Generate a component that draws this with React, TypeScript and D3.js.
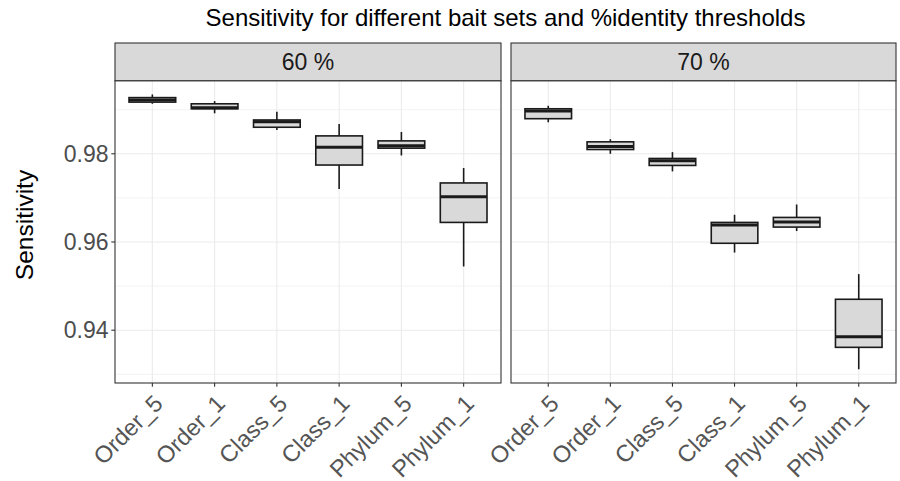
import React from "react";
import * as d3 from "d3";

const categories = ["Order_5", "Order_1", "Class_5", "Class_1", "Phylum_5", "Phylum_1"];
const panels = ["60 %", "70 %"];
// [whiskerLow, q1, median, q3, whiskerHigh]
const stats60: number[][] = [
  [0.99134, 0.99172, 0.99218, 0.99274, 0.99346],
  [0.98918, 0.99021, 0.99044, 0.99134, 0.99195],
  [0.98541, 0.98602, 0.98728, 0.98767, 0.98954],
  [0.97204, 0.97745, 0.9815, 0.98406, 0.98676],
  [0.97962, 0.98128, 0.9818, 0.98293, 0.98496],
  [0.95445, 0.96444, 0.97024, 0.97339, 0.97677],
];
const stats70: number[][] = [
  [0.98715, 0.98796, 0.9897, 0.99021, 0.99089],
  [0.98, 0.98097, 0.98166, 0.98271, 0.98331],
  [0.97601, 0.97736, 0.97842, 0.97894, 0.98038],
  [0.95761, 0.95971, 0.96383, 0.96444, 0.96618],
  [0.96248, 0.96338, 0.96451, 0.96557, 0.9685],
  [0.93114, 0.93611, 0.93851, 0.94701, 0.95272],
];
const yTicks = [0.94, 0.96, 0.98];
const yMinor = [0.93, 0.95, 0.97, 0.99];

const W = 900;
const H = 481;
const FONT = "'Liberation Sans', Arial, Helvetica, sans-serif";

export default function App() {
  const allStats = [stats60, stats70];
  const all = allStats.flat().flat();
  const lo = d3.min(all)!;
  const hi = d3.max(all)!;
  const pad = (hi - lo) * 0.05;
  const top = 80.7;
  const bottom = 383;
  const y = d3.scaleLinear().domain([lo - pad, hi + pad]).range([bottom, top]);
  const panelX = [
    [115, 501],
    [511, 896],
  ];
  const stripTop = 43;
  const dark = "#1a1a1a";

  return (
    <svg width={W} height={H} style={{ display: "block", position: "absolute", left: 0, top: 0 }} fontFamily={FONT}>
      <rect x={0} y={0} width={W} height={H} fill="#fff" />
      <text x={(115 + 896) / 2} y={26} textAnchor="middle" fontSize={24} fill="#000">
        Sensitivity for different bait sets and %identity thresholds
      </text>
      <text transform={`translate(33, 225) rotate(-90)`} textAnchor="middle" fontSize={24.5} fill="#000">
        Sensitivity
      </text>
      {yTicks.map((t) => (
        <g key={t}>
          <line x1={111.3} x2={115} y1={y(t)} y2={y(t)} stroke="#333" strokeWidth={1.1} />
          <text x={108.5} y={y(t)} dy="0.36em" textAnchor="end" fontSize={23} fill="#4d4d4d">
            {t.toFixed(2)}
          </text>
        </g>
      ))}
      {panels.map((p, pi) => {
        const [x0, x1] = panelX[pi];
        // ggplot discrete expansion 0.6 units each side
        const step = (x1 - x0) / (categories.length - 1 + 1.2);
        const cx = (c: string) => x0 + step * (0.6 + categories.indexOf(c));
        const bw = step * 0.75;
        const st = allStats[pi];
        return (
          <g key={p}>
            <rect x={x0} y={top} width={x1 - x0} height={bottom - top} fill="#fff" />
            {yMinor.map((t) => (
              <line key={"m" + t} x1={x0} x2={x1} y1={y(t)} y2={y(t)} stroke="#ebebeb" strokeWidth={0.6} />
            ))}
            {yTicks.map((t) => (
              <line key={"M" + t} x1={x0} x2={x1} y1={y(t)} y2={y(t)} stroke="#ebebeb" strokeWidth={1.1} />
            ))}
            {categories.map((c) => (
              <line key={"v" + c} x1={cx(c)} x2={cx(c)} y1={top} y2={bottom} stroke="#ebebeb" strokeWidth={1.1} />
            ))}
            {categories.map((c, i) => {
              const [wl, q1, md, q3, wh] = st[i];
              const xc = cx(c);
              return (
                <g key={c}>
                  <line x1={xc} x2={xc} y1={y(wh)} y2={y(q3)} stroke={dark} strokeWidth={1.6} />
                  <line x1={xc} x2={xc} y1={y(q1)} y2={y(wl)} stroke={dark} strokeWidth={1.6} />
                  <rect
                    x={xc - bw / 2}
                    y={y(q3)}
                    width={bw}
                    height={y(q1) - y(q3)}
                    fill="#d9d9d9"
                    stroke={dark}
                    strokeWidth={1.6}
                  />
                  <line x1={xc - bw / 2} x2={xc + bw / 2} y1={y(md)} y2={y(md)} stroke={dark} strokeWidth={3} />
                </g>
              );
            })}
            <rect x={x0} y={top} width={x1 - x0} height={bottom - top} fill="none" stroke="#333" strokeWidth={1.1} />
            <rect
              x={x0}
              y={stripTop}
              width={x1 - x0}
              height={top - stripTop}
              fill="#d9d9d9"
              stroke="#333"
              strokeWidth={1.1}
            />
            <text x={(x0 + x1) / 2} y={(stripTop + top) / 2} dy="0.36em" textAnchor="middle" fontSize={23} fill="#1a1a1a">
              {p}
            </text>
            {categories.map((c) => (
              <g key={"t" + c}>
                <line x1={cx(c)} x2={cx(c)} y1={bottom} y2={bottom + 3.7} stroke="#333" strokeWidth={1.1} />
                <text
                  transform={`translate(${cx(c)}, ${bottom + 10}) rotate(-45)`}
                  textAnchor="end"
                  dy="0.72em"
                  fontSize={23.5}
                  fill="#555"
                >
                  {c}
                </text>
              </g>
            ))}
          </g>
        );
      })}
    </svg>
  );
}
